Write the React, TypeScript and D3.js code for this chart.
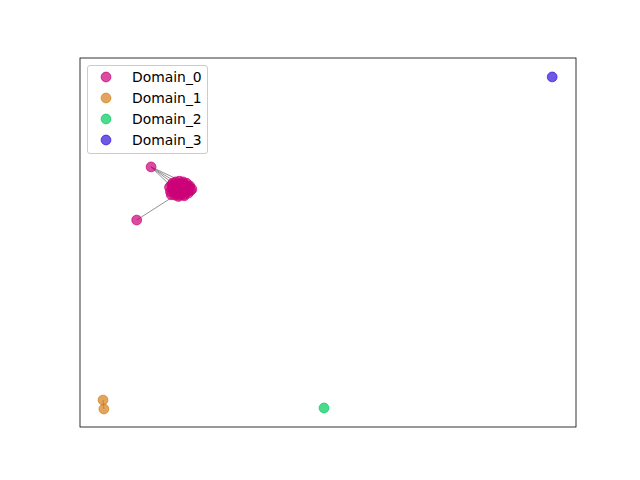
import React from "react";
import * as d3 from "d3";

const domains = ["Domain_0", "Domain_1", "Domain_2", "Domain_3"];
const domainColors = ["#cc0077", "#d47f1a", "#00cc5c", "#3311dd"];

const xLim = [-0.512, 10.53];
const yLim = [-0.542, 10.57];

const nodeIds = [
  "a", "b",
  "c1", "c2", "c3", "c4", "c5", "c6", "c7", "c8", "c9", "c10",
  "c11", "c12", "c13", "c14", "c15", "c16", "c17", "c18", "c19", "c20",
  "c21", "c22", "c23", "c24", "c25", "c26", "c27", "c28", "c29", "c30",
  "c31", "c32", "c33", "c34", "c35", "c36", "c37", "c38", "c39", "c40",
  "d1a", "d1b", "d2", "d3",
];
const nodeDomain = [
  0, 0,
  0, 0, 0, 0, 0, 0, 0, 0, 0, 0,
  0, 0, 0, 0, 0, 0, 0, 0, 0, 0,
  0, 0, 0, 0, 0, 0, 0, 0, 0, 0,
  0, 0, 0, 0, 0, 0, 0, 0, 0, 0,
  1, 1, 2, 3,
];
const nodeX = [
  1.07, 0.75,
  1.48, 1.55, 1.62, 1.70, 1.78, 1.86, 1.93, 1.50, 1.60, 1.72,
  1.84, 1.95, 1.52, 1.66, 1.80, 1.90, 1.58, 1.75, 1.68, 1.98,
  1.53, 1.64, 1.74, 1.82, 1.90, 1.57, 1.69, 1.79, 1.88, 1.62,
  1.72, 1.83, 1.56, 1.66, 1.77, 1.87, 1.60, 1.70, 1.81, 1.92,
  0.0, 0.02, 4.92, 10.0,
];
const nodeY = [
  7.29, 5.69,
  6.68, 6.80, 6.84, 6.86, 6.84, 6.80, 6.72, 6.55, 6.60, 6.62,
  6.60, 6.58, 6.45, 6.48, 6.46, 6.50, 6.72, 6.70, 6.40, 6.62,
  6.74, 6.76, 6.78, 6.76, 6.66, 6.64, 6.68, 6.66, 6.56, 6.52,
  6.54, 6.52, 6.60, 6.58, 6.60, 6.70, 6.44, 6.44, 6.42, 6.68,
  0.27, 0.0, 0.03, 10.0,
];
const edgeFrom = ["a", "a", "a", "a", "b", "d1a"];
const edgeTo = ["c2", "c5", "c3", "c9", "c14", "d1b"];

export default function App() {
  const W = 640, H = 480;
  const left = 80, right = 576, top = 58, bottom = 427;
  const x = d3.scaleLinear().domain(xLim).range([left, right]);
  const y = d3.scaleLinear().domain(yLim).range([bottom, top]);
  const idx = new Map(nodeIds.map((id, i) => [id, i]));
  const r = 4.9;

  return (
    <svg width={W} height={H} style={{ position: "absolute", left: 0, top: 0, fontFamily: "DejaVu Sans" }}>
      <rect x={0} y={0} width={W} height={H} fill="white" />
      {edgeFrom.map((f, i) => {
        const a = idx.get(f)!, b = idx.get(edgeTo[i])!;
        return (
          <line key={i} x1={x(nodeX[a])} y1={y(nodeY[a])} x2={x(nodeX[b])} y2={y(nodeY[b])}
            stroke="#777" strokeOpacity={0.8} strokeWidth={1} />
        );
      })}
      {nodeIds.map((id, i) => (
        <circle key={id} cx={x(nodeX[i])} cy={y(nodeY[i])} r={r}
          fill={domainColors[nodeDomain[i]]} fillOpacity={0.7}
          stroke={domainColors[nodeDomain[i]]} strokeOpacity={0.7} strokeWidth={1} />
      ))}
      <rect x={left} y={top} width={right - left} height={bottom - top} fill="none" stroke="black" strokeWidth={0.8} />
      <g>
        <rect x={87.5} y={65.5} width={120} height={88} rx={2.5} fill="white" fillOpacity={0.8} stroke="#cccccc" strokeWidth={1} />
        {domains.map((d, i) => (
          <g key={d}>
            <circle cx={106} cy={77 + i * 21} r={r} fill={domainColors[i]} fillOpacity={0.7}
              stroke={domainColors[i]} strokeOpacity={0.7} strokeWidth={1} />
            <text x={132} y={77 + i * 21} dy="0.35em" fontSize={13.9} fill="black">{d}</text>
          </g>
        ))}
      </g>
    </svg>
  );
}
